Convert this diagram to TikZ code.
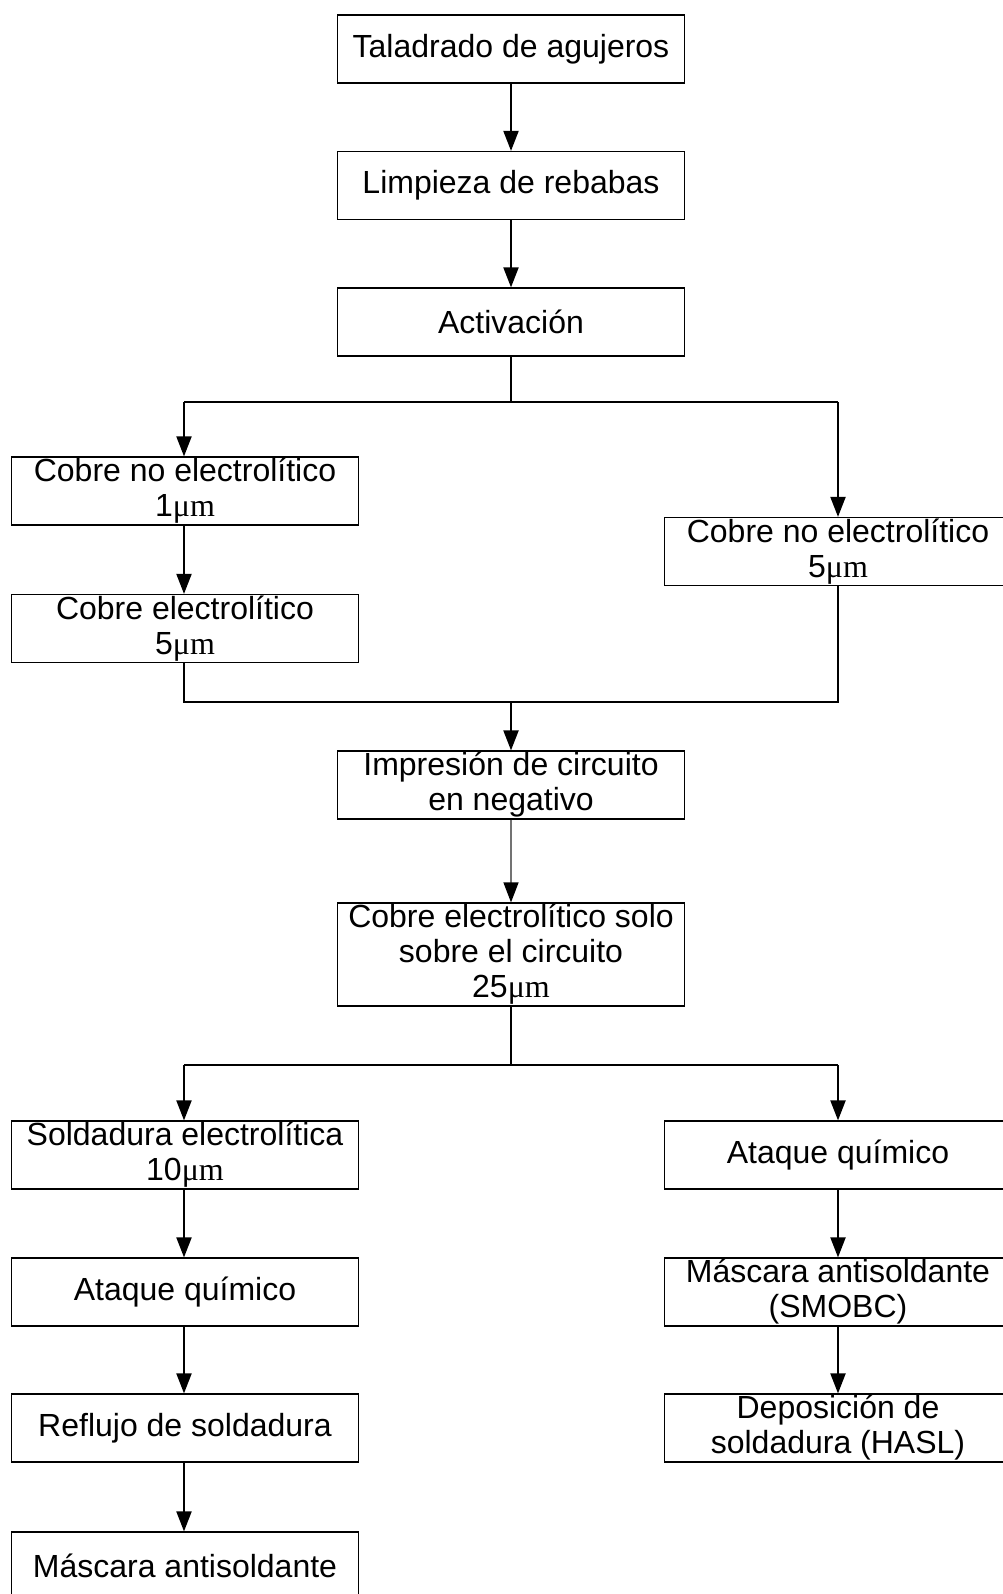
\documentclass[tikz,border=0pt]{standalone}
\usepackage{fontspec}
\setmainfont{Liberation Sans}
\newfontfamily\unitfont{Liberation Serif}
\usetikzlibrary{arrows.meta}
\newcommand\um{{\unitfont μm}}

\begin{document}
\begin{tikzpicture}[x=1pt,y=-1pt,
  box/.style={draw, line width=1.2pt, minimum width=347pt, minimum height=68pt,
    inner sep=0pt, align=center, font=\fontsize{32}{35}\selectfont},
  flow/.style={line width=2pt, -{Triangle[length=20pt,width=15pt]}},
  thinflow/.style={line width=1.2pt, draw=black!55, -{Triangle[length=20pt,width=15pt,color=black]}},
  link/.style={line width=2pt}]
\useasboundingbox (0,0) rectangle (1002,1594);
\fill[white] (0,0) rectangle (1002,1594);

% main column
\node[box] (drill)  at (511,49)    {Taladrado de agujeros};
\node[box] (clean)  at (511,185.5) {Limpieza de rebabas};
\node[box] (act)    at (511,322)   {Activación};

% first branch
\node[box] (lcu1)   at (185,491)   {Cobre no electrolítico\\1\um};
\node[box] (lcu2)   at (185,628.5) {Cobre electrolítico\\5\um};
\node[box] (rcu1)   at (838,551.5) {Cobre no electrolítico\\5\um};

% merged column
\node[box] (print)  at (511,785)   {Impresión de circuito\\en negativo};
\node[box, minimum height=103pt] (solo) at (511,954.5) {Cobre electrolítico solo\\sobre el circuito\\25\um};

% second branch, left
\node[box] (lsold)  at (185,1155)  {Soldadura electrolítica\\10\um};
\node[box] (latq)   at (185,1292)  {Ataque químico};
\node[box] (lrefl)  at (185,1428)  {Reflujo de soldadura};
\node[box] (lmask)  at (185,1566)  {Máscara antisoldante};

% second branch, right
\node[box] (ratq)   at (838,1155)  {Ataque químico};
\node[box] (rmask)  at (838,1292)  {Máscara antisoldante\\(SMOBC)};
\node[box] (rhasl)  at (838,1428)  {Deposición de\\soldadura (HASL)};

% junction points
\coordinate (s1)  at (511,402);
\coordinate (s1l) at (184,402);
\coordinate (s1r) at (838,402);
\coordinate (m1)  at (511,702);
\coordinate (m1l) at (184,702);
\coordinate (m1r) at (838,702);
\coordinate (s2)  at (511,1065);
\coordinate (s2l) at (184,1065);
\coordinate (s2r) at (838,1065);

% connectors
\draw[flow] (drill) -- (clean);
\draw[flow] (clean) -- (act);
\draw[link] (act.south) -- (s1);
\draw[link] (s1l) -- (s1r);
\draw[flow] (s1l) -- (s1l |- lcu1.north);
\draw[flow] (s1r) -- (rcu1);
\draw[flow] (lcu1.south -| s1l) -- (s1l |- lcu2.north);
\draw[link] (lcu2.south -| m1l) -- (m1l) -- (m1r) -- (rcu1.south -| m1r);
\draw[flow] (m1) -- (print);
\draw[thinflow] (print) -- (solo);
\draw[link] (solo.south) -- (s2);
\draw[link] (s2l) -- (s2r);
\draw[flow] (s2l) -- (s2l |- lsold.north);
\draw[flow] (s2r) -- (ratq);
\draw[flow] (lsold.south -| s2l) -- (s2l |- latq.north);
\draw[flow] (latq.south -| s2l) -- (s2l |- lrefl.north);
\draw[flow] (lrefl.south -| s2l) -- (s2l |- lmask.north);
\draw[flow] (ratq) -- (rmask);
\draw[flow] (rmask) -- (rhasl);
\end{tikzpicture}
\end{document}
